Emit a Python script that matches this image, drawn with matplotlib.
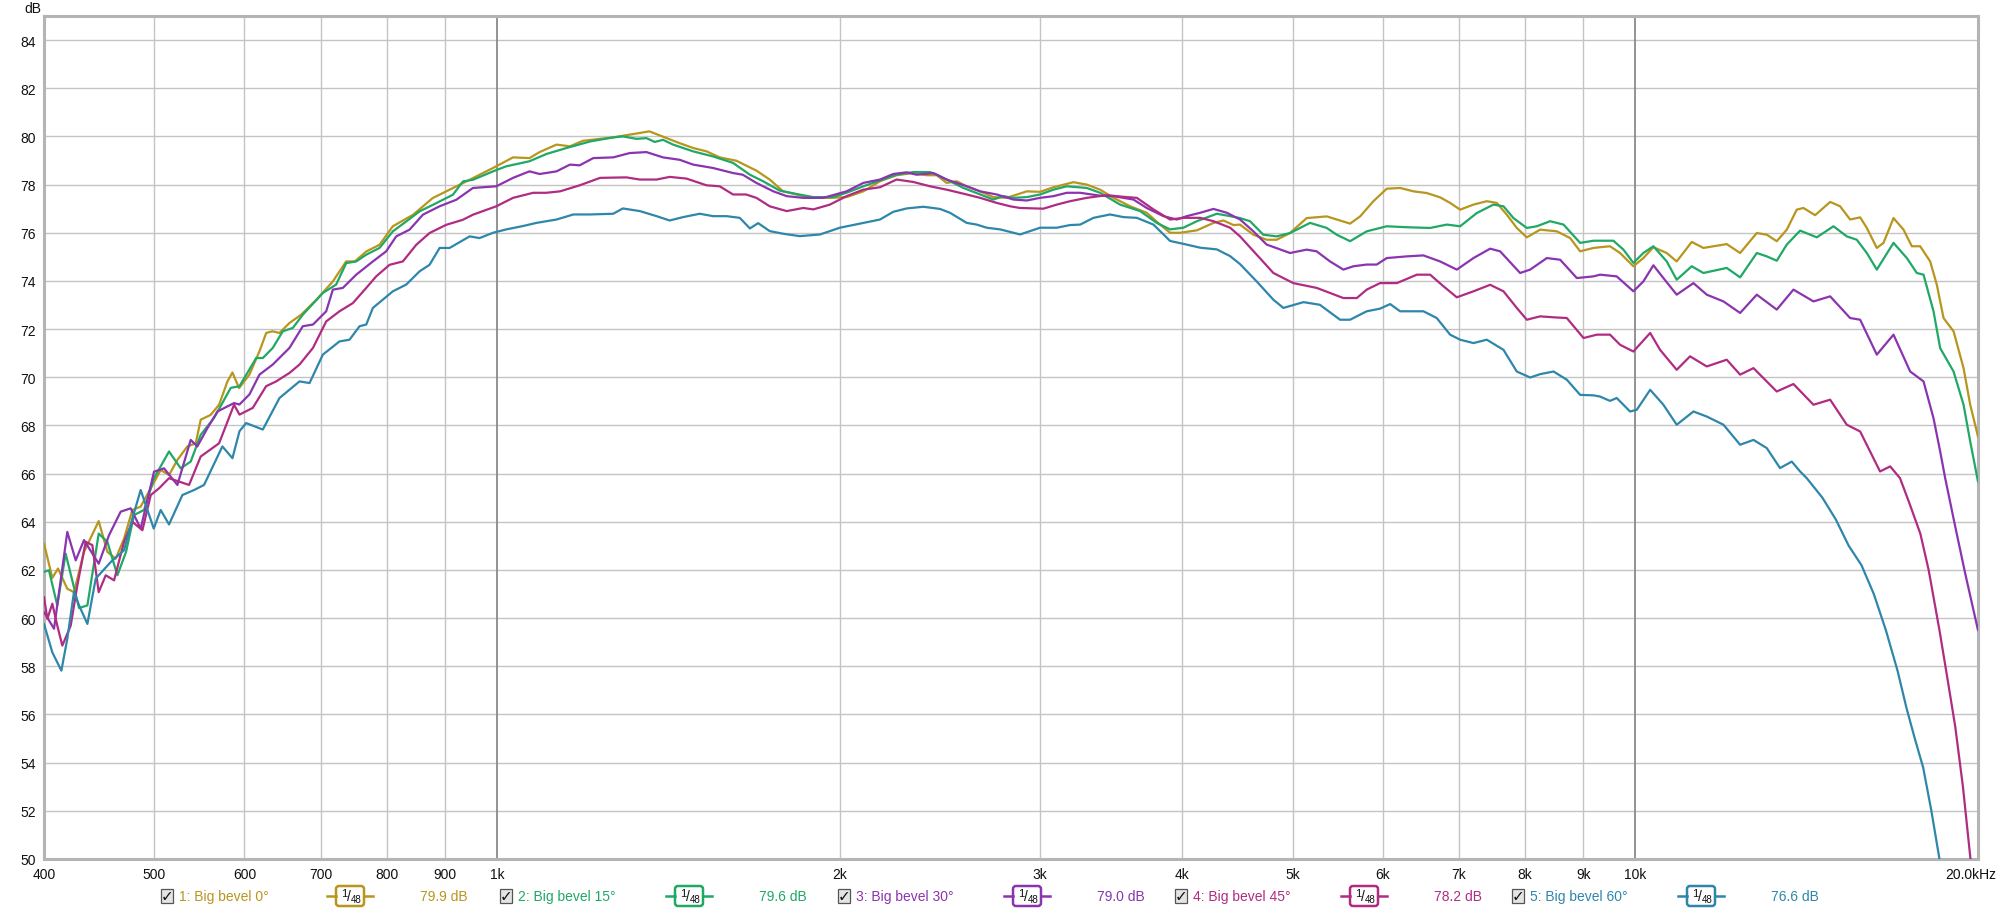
import matplotlib
matplotlib.use('Agg')
import matplotlib.pyplot as plt
import matplotlib.transforms as mtransforms
from matplotlib.patches import FancyBboxPatch, Rectangle

plt.rcParams['font.family'] = ['Liberation Sans', 'DejaVu Sans']

# ---------------- data (frequency Hz, level dB) ----------------
gold_pts = [(400, 63.1), (406.8, 61.67), (411.5, 62.06), (419.3, 61.22), (425, 61.08), (433.7, 62.75),
            (446.8, 64.03), (454.7, 62.75), (462.4, 62.47), (470.3, 63.3), (478.3, 64.49), (486.4, 64.63),
            (496.4, 65.39), (506.5, 66.15), (515.1, 65.94), (523.9, 66.57), (534.6, 67.13), (543.7, 67.26),
            (549.2, 68.24), (560.4, 68.44), (570, 68.86), (579.7, 69.83), (585.6, 70.2), (593.5, 69.55),
            (606, 70.11), (618.5, 71.08), (627, 71.84), (635, 71.91), (644, 71.84), (657, 72.25), (673, 72.6),
            (694, 73.22), (717.5, 73.98), (737, 74.81), (750, 74.81), (768, 75.23), (788.5, 75.5), (810, 76.27),
            (844, 76.75), (878, 77.44), (915, 77.86), (946, 78.2),
            (992, 78.69), (1033, 79.13), (1068, 79.1), (1090, 79.35), (1128, 79.66), (1159, 79.59), (1190, 79.82),
            (1265, 79.96), (1317, 80.1), (1361, 80.21), (1390, 80.04), (1447, 79.72), (1487, 79.52), (1528, 79.38),
            (1569, 79.13), (1623, 78.99), (1690, 78.58), (1736, 78.21), (1784, 77.72), (1833, 77.59), (1883, 77.45),
            (1961, 77.45), (2028, 77.48), (2098, 77.72),
            (2170, 78.14), (2244, 78.39), (2321, 78.48), (2385, 78.39), (2434, 78.39), (2483, 78.07), (2534, 78.14),
            (2586, 77.93), (2657, 77.72), (2729, 77.48), (2804, 77.45), (2920, 77.72), (3000, 77.7), (3082, 77.89),
            (3209, 78.1), (3297, 78.0), (3387, 77.79), (3480, 77.45), (3599, 77.1), (3722, 76.83), (3824, 76.34),
            (3902, 76.0), (3982, 76.0), (4119, 76.1), (4260, 76.41), (4347, 76.51), (4436, 76.32),
            (4495, 76.34), (4618, 75.92), (4744, 75.71), (4841, 75.71), (4974, 75.99), (5144, 76.61), (5357, 76.68),
            (5466, 76.55), (5616, 76.38), (5731, 76.68), (5887, 77.31), (6048, 77.83), (6214, 77.86), (6384, 77.72),
            (6558, 77.65), (6738, 77.47), (6875, 77.24), (7016, 76.96), (7208, 77.17), (7405, 77.31), (7556, 77.24),
            (7711, 76.75), (7868, 76.2), (8029, 75.81), (8249, 76.13), (8532, 76.06), (8765, 75.78), (8944, 75.23),
            (9189, 75.37),
            (9311, 75.4), (9501, 75.44), (9696, 75.16), (9961, 74.61), (10164, 74.95), (10372, 75.4), (10656, 75.16),
            (10873, 74.81), (11209, 75.62), (11476, 75.37), (12031, 75.53), (12361, 75.16), (12785, 75.99),
            (13046, 75.92), (13312, 75.65), (13585, 76.13), (13862, 76.96), (14050, 77.03), (14386, 76.73),
            (14830, 77.28), (15132, 77.1), (15442, 76.55), (15758, 76.64), (15972, 76.2), (16298, 75.37),
            (16520, 75.58), (16858, 76.61), (17202, 76.13), (17495, 75.44), (17792, 75.44), (18156, 74.81),
            (18402, 73.84), (18653, 72.46), (19035, 71.91), (19424, 70.38), (19688, 68.86), (20000, 67.54)]

green_pts = [(400, 61.92), (404, 61.99), (410.9, 60.53), (417.9, 62.68), (429.4, 60.42), (436.7, 60.53),
             (446.8, 63.51), (454.7, 63.17), (464, 61.78), (472.2, 62.75), (479.9, 64.28), (489.7, 64.49),
             (499.7, 65.81), (515.1, 66.92), (527.4, 66.22), (538.2, 66.5), (549.2, 67.61), (564.2, 68.31),
             (583.6, 69.56),
             (594, 69.63), (614.4, 70.8), (622.7, 70.8), (635.4, 71.22), (648.4, 71.91), (661.7, 72.05), (675.2, 72.6),
             (703.1, 73.5), (722.3, 73.85), (737.1, 74.74), (752.2, 74.81), (767.6, 75.09), (788.5, 75.37),
             (810.1, 76.06), (832.3, 76.47), (855.1, 76.89), (878.4, 77.16), (914.7, 77.58), (933.4, 78.13),
             (952.5, 78.2),
             (992, 78.55), (1019, 78.76), (1068, 78.97), (1105, 79.27), (1151, 79.52), (1207, 79.79), (1265, 79.96),
             (1290, 80.0), (1326, 79.9), (1353, 79.93), (1376, 79.77), (1399, 79.86), (1428, 79.66), (1487, 79.38),
             (1548, 79.17), (1612, 78.9), (1668, 78.41), (1713, 78.14), (1772, 77.75), (1833, 77.61), (1896, 77.48),
             (1973, 77.48), (2028, 77.66), (2098, 77.93),
             (2170, 78.17), (2244, 78.41), (2321, 78.52), (2401, 78.52), (2434, 78.41), (2483, 78.21), (2569, 77.86),
             (2657, 77.59), (2729, 77.38), (2785, 77.52), (2842, 77.45), (2920, 77.48), (3000, 77.59), (3082, 77.79),
             (3166, 77.93), (3297, 77.86), (3387, 77.66), (3527, 77.17), (3673, 76.9), (3798, 76.41), (3902, 76.14),
             (4009, 76.21), (4119, 76.48), (4289, 76.79), (4406, 76.69),
             (4495, 76.61), (4587, 76.48), (4712, 75.92), (4841, 75.85), (4974, 75.99), (5179, 76.41), (5357, 76.2),
             (5466, 75.92), (5616, 75.65), (5808, 76.06), (6048, 76.27), (6298, 76.23), (6603, 76.2), (6829, 76.34),
             (7016, 76.27), (7257, 76.82), (7505, 77.17), (7659, 77.1), (7815, 76.61), (8029, 76.2), (8193, 76.27),
             (8417, 76.48), (8648, 76.34), (8944, 75.58), (9189, 75.67),
             (9311, 75.67), (9566, 75.67), (9762, 75.3), (9961, 74.75), (10164, 75.16), (10372, 75.44), (10656, 74.81),
             (10873, 74.05), (11209, 74.61), (11476, 74.33), (12031, 74.54), (12361, 74.15), (12785, 75.16),
             (13046, 75.02), (13312, 74.84), (13585, 75.51), (13956, 76.09), (14435, 75.81), (14930, 76.27),
             (15338, 75.85), (15652, 75.71), (15972, 75.16), (16298, 74.47), (16858, 75.58), (17319, 74.95),
             (17672, 74.33), (17913, 74.26), (18279, 72.74), (18527, 71.21), (19035, 70.24), (19424, 68.86),
             (19688, 67.33), (20000, 65.67)]

purple_pts = [(400, 60.25), (408.2, 59.56), (419.3, 63.58), (426.5, 62.4), (433.7, 63.24), (446.8, 62.26),
              (456.2, 63.44), (467.1, 64.42), (476.7, 64.56), (486.4, 63.72), (499.7, 66.08), (509.9, 66.22),
              (523.9, 65.53), (538.2, 67.4), (545.5, 67.13), (556.7, 67.89), (568.1, 68.58), (587.5, 68.93),
              (594, 68.87), (606.1, 69.29), (618.5, 70.11), (635.4, 70.53), (657.2, 71.22), (675.2, 72.12),
              (689.2, 72.19), (707.9, 72.74), (717.5, 73.64), (732.1, 73.71), (752.2, 74.26), (778, 74.81),
              (799.2, 75.23), (815.6, 75.85), (837.9, 76.13), (860.8, 76.75), (890.4, 77.1), (920.9, 77.37),
              (952.5, 77.86),
              (998.7, 77.93), (1033, 78.28), (1068, 78.55), (1090, 78.44), (1128, 78.55), (1159, 78.83), (1182, 78.8),
              (1215, 79.1), (1265, 79.13), (1308, 79.31), (1353, 79.35), (1399, 79.13), (1447, 79.03), (1487, 78.83),
              (1548, 78.69), (1612, 78.48), (1644, 78.41), (1690, 78.07), (1749, 77.72), (1797, 77.52), (1858, 77.45),
              (1935, 77.45), (2028, 77.72), (2098, 78.07),
              (2170, 78.21), (2229, 78.44), (2290, 78.51), (2337, 78.41), (2417, 78.48), (2483, 78.21), (2586, 77.93),
              (2657, 77.72), (2748, 77.59), (2842, 77.38), (2920, 77.34), (3000, 77.45), (3082, 77.52), (3166, 77.66),
              (3253, 77.66), (3387, 77.54), (3480, 77.52), (3623, 77.38), (3722, 77.03), (3850, 76.69), (3955, 76.55),
              (4036, 76.69), (4147, 76.83), (4260, 76.99), (4377, 76.83), (4496, 76.55),
              (4618, 76.06), (4744, 75.51), (4974, 75.16), (5144, 75.3), (5248, 75.23), (5393, 74.81), (5540, 74.47),
              (5654, 74.61), (5808, 74.68), (5927, 74.68), (6048, 74.95), (6298, 75.02), (6514, 75.06), (6738, 74.81),
              (6969, 74.47), (7208, 74.95), (7455, 75.34), (7607, 75.23), (7921, 74.33), (8083, 74.47), (8361, 74.95),
              (8590, 74.88), (8884, 74.12), (9189, 74.19),
              (9311, 74.26), (9630, 74.19), (9961, 73.57), (10164, 73.98), (10372, 74.65), (10584, 74.12),
              (10873, 73.43), (11247, 73.91), (11555, 73.43), (11952, 73.15), (12361, 72.67), (12785, 73.43),
              (13312, 72.81), (13769, 73.64), (14338, 73.15), (14830, 73.36), (15442, 72.46), (15758, 72.39),
              (16298, 70.94), (16858, 71.77), (17436, 70.24), (17913, 69.83), (18279, 68.3), (18527, 66.92),
              (18716, 65.81), (19100, 63.8), (19500, 61.8), (20000, 59.5)]

magenta_pts = [(400, 60.88), (402.7, 59.97), (406.8, 60.6), (410.9, 59.69), (415.1, 58.86), (422.2, 59.69),
               (427.9, 61.36), (435.2, 63.17), (441.1, 63.03), (446.8, 61.08), (453.2, 61.78), (460.9, 61.57),
               (470.3, 63.17), (478.3, 64.0), (488.1, 63.65), (496.4, 65.11), (504.8, 65.39), (515.1, 65.81),
               (525.6, 65.67), (536.4, 65.53), (549.2, 66.71), (570, 67.26), (587.5, 68.86),
               (594, 68.45), (610.2, 68.73), (626.9, 69.63), (639.8, 69.83), (657.2, 70.18), (670.7, 70.53),
               (689.2, 71.22), (707.9, 72.32), (727.2, 72.74), (747.1, 73.08), (767.6, 73.71), (783.2, 74.19),
               (804.7, 74.67), (826.6, 74.81), (849.3, 75.5), (872.5, 75.99), (902.4, 76.33), (933.4, 76.54),
               (952.5, 76.75),
               (998.7, 77.1), (1033, 77.45), (1076, 77.66), (1105, 77.66), (1136, 77.72), (1182, 77.97), (1232, 78.28),
               (1299, 78.3), (1335, 78.21), (1381, 78.21), (1418, 78.32), (1467, 78.25), (1528, 77.97), (1569, 77.93),
               (1612, 77.59), (1655, 77.59), (1690, 77.45), (1736, 77.1), (1797, 76.9), (1858, 77.03), (1896, 76.97),
               (1961, 77.17), (2028, 77.52), (2098, 77.79),
               (2170, 77.89), (2244, 78.21), (2321, 78.11), (2401, 77.93), (2483, 77.79), (2586, 77.59), (2657, 77.45),
               (2748, 77.24), (2823, 77.1), (2880, 77.03), (3020, 77.0), (3103, 77.17), (3187, 77.31), (3297, 77.45),
               (3433, 77.56), (3575, 77.48), (3648, 77.45), (3773, 76.97), (3902, 76.55), (4009, 76.62), (4147, 76.62),
               (4260, 76.48), (4406, 76.21),
               (4495, 75.85), (4649, 75.09), (4809, 74.33), (5007, 73.91), (5250, 73.71), (5393, 73.5), (5540, 73.29),
               (5693, 73.29), (5808, 73.64), (5967, 73.91), (6173, 73.91), (6428, 74.26), (6603, 74.26), (6783, 73.78),
               (6969, 73.32), (7208, 73.57), (7455, 73.84), (7659, 73.57), (7868, 72.88), (8029, 72.39), (8249, 72.53),
               (8475, 72.49), (8706, 72.46), (9005, 71.63), (9252, 71.77),
               (9501, 71.77), (9696, 71.35), (9961, 71.07), (10305, 71.84), (10513, 71.14), (10873, 70.31),
               (11170, 70.87), (11555, 70.45), (12031, 70.73), (12361, 70.11), (12700, 70.38), (13312, 69.41),
               (13769, 69.72), (14338, 68.86), (14830, 69.07), (15338, 68.03), (15758, 67.75), (16405, 66.09),
               (16745, 66.3), (17082, 65.81), (17400, 64.8), (17800, 63.5), (18100, 62.0), (18500, 59.5),
               (18800, 57.5), (19100, 55.5), (19400, 53.0), (19700, 50.0), (20000, 47.0)]

blue_pts = [(400, 59.76), (406.8, 58.58), (414.3, 57.82), (419.3, 59.14), (425, 61.08), (429.4, 60.53),
            (436.7, 59.76), (444.1, 61.64), (457.8, 62.33), (470.3, 62.82), (478.3, 64.14), (486.4, 65.32),
            (499.4, 63.72), (506.5, 64.49), (515.1, 63.89), (529.2, 65.11), (541.9, 65.32), (552.9, 65.53),
            (573.8, 67.13), (585.6, 66.64),
            (594, 67.76), (602, 68.1), (622.7, 67.83), (644.1, 69.14), (670.7, 69.83), (684.4, 69.76), (703.1, 70.94),
            (727.2, 71.49), (742.1, 71.56), (757.3, 72.12), (767.6, 72.19), (778, 72.88), (810.1, 73.57),
            (832.3, 73.85), (855.1, 74.4), (872.5, 74.67), (890.4, 75.37), (908.6, 75.37), (946.1, 75.85),
            (965.4, 75.78),
            (992, 76.0), (1019, 76.14), (1054, 76.28), (1083, 76.41), (1128, 76.55), (1167, 76.76), (1207, 76.76),
            (1265, 76.79), (1290, 77.01), (1335, 76.9), (1381, 76.69), (1418, 76.51), (1457, 76.65), (1507, 76.79),
            (1548, 76.69), (1591, 76.69), (1634, 76.62), (1668, 76.18), (1696, 76.4), (1736, 76.07), (1784, 75.96),
            (1845, 75.86), (1922, 75.93), (2001, 76.21), (2098, 76.41),
            (2170, 76.55), (2229, 76.87), (2290, 77.01), (2369, 77.08), (2450, 76.99), (2500, 76.83), (2586, 76.41),
            (2639, 76.34), (2693, 76.21), (2767, 76.14), (2881, 75.93), (2940, 76.07), (3000, 76.21), (3103, 76.21),
            (3187, 76.32), (3253, 76.34), (3342, 76.62), (3456, 76.76), (3551, 76.65), (3648, 76.62), (3773, 76.34),
            (3902, 75.66), (4009, 75.54), (4147, 75.38), (4289, 75.31), (4406, 75.03),
            (4495, 74.7), (4649, 73.98), (4809, 73.22), (4907, 72.88), (5111, 73.12), (5283, 73.01), (5503, 72.39),
            (5616, 72.39), (5808, 72.74), (5967, 72.85), (6090, 73.04), (6214, 72.74), (6514, 72.74), (6692, 72.46),
            (6875, 71.77), (7016, 71.56), (7208, 71.42), (7405, 71.56), (7659, 71.14), (7868, 70.24), (8083, 69.99),
            (8249, 70.13), (8475, 70.24), (8706, 69.9), (8944, 69.27), (9189, 69.25),
            (9311, 69.2), (9501, 69.02), (9630, 69.14), (9894, 68.58), (10029, 68.65), (10305, 69.48), (10584, 68.86),
            (10873, 68.03), (11247, 68.58), (11555, 68.37), (11952, 68.03), (12361, 67.2), (12700, 67.4),
            (13046, 67.06), (13401, 66.23), (13722, 66.5), (13956, 66.09), (14145, 65.81), (14600, 65.0),
            (15000, 64.1), (15400, 63.0), (15800, 62.2), (16200, 61.0), (16600, 59.5), (17000, 57.8), (17300, 56.3),
            (17600, 55.0), (17900, 53.8), (18200, 52.0), (18500, 50.0), (18700, 48.5)]

series_pts = [gold_pts, green_pts, purple_pts, magenta_pts, blue_pts]
series_colors = ['#b8961e', '#1fa866', '#8b34b0', '#b02c82', '#2e87aa']
legend_names = ['1: Big bevel 0°', '2: Big bevel 15°', '3: Big bevel 30°', '4: Big bevel 45°', '5: Big bevel 60°']
legend_levels = ['79.9 dB', '79.6 dB', '79.0 dB', '78.2 dB', '76.6 dB']
smoothing = ['1/48'] * 5

x_ticks = [400, 500, 600, 700, 800, 900, 1000, 2000, 3000, 4000, 5000, 6000, 7000, 8000, 9000, 10000, 20000]
x_labels = ['400', '500', '600', '700', '800', '900', '1k', '2k', '3k', '4k', '5k', '6k', '7k', '8k', '9k',
            '10k', '20.0kHz']
y_ticks = list(range(50, 86, 2))

# ---------------- figure ----------------
W, H = 2000, 912
fig = plt.figure(figsize=(W / 100, H / 100), dpi=100)
fig.patch.set_facecolor('white')
ax = fig.add_axes([44 / W, 52 / H, 1934 / W, 843 / H])
ax.set_xscale('log')
ax.set_xlim(400, 20000)
ax.set_ylim(50, 85)

ax.set_yticks(y_ticks)
ax.set_yticklabels([str(v) for v in y_ticks])
ax.set_xticks(x_ticks)
ax.set_xticklabels(x_labels)
ax.xaxis.set_minor_locator(matplotlib.ticker.NullLocator())
ax.tick_params(axis='both', length=0, labelsize=10, colors='#111111')
ax.tick_params(axis='y', pad=6)
ax.tick_params(axis='x', pad=6)

# keep the last frequency label inside the figure, as in the reference
last = ax.get_xticklabels()[-1]
last.set_horizontalalignment('right')
last.set_transform(last.get_transform() + mtransforms.ScaledTranslation(18 / 100, 0, fig.dpi_scale_trans))

for y in y_ticks:
    ax.axhline(y, color='#c4c4c4', lw=1.0, zorder=1)
for xv in x_ticks[1:-1]:
    dark = xv in (1000, 10000)
    ax.axvline(xv, color='#8a8a8a' if dark else '#c4c4c4', lw=1.3 if dark else 1.0, zorder=1)

for sp in ax.spines.values():
    sp.set_color('#b4b4b4')
    sp.set_linewidth(2.2)

for pts, col in zip(series_pts, series_colors):
    f, d = zip(*pts)
    ax.plot(f, d, color=col, lw=1.6, solid_joinstyle='round', solid_capstyle='round', zorder=3)

fig.text(33 / W, 1 - 9 / H, 'dB', ha='center', va='center', fontsize=10, color='#111111')

# ---------------- legend row (pixel overlay) ----------------
ov = fig.add_axes([0, 0, 1, 1])
ov.set_xlim(0, W)
ov.set_ylim(H, 0)
ov.axis('off')
ov.patch.set_alpha(0)

leg_y = 897
bases = [167, 506, 844, 1181, 1518]
for b, name, lvl, sm, col in zip(bases, legend_names, legend_levels, smoothing, series_colors):
    ov.add_patch(Rectangle((b - 6, leg_y - 7), 12, 14, facecolor='#e4e4e4', edgecolor='#555555', lw=0.9))
    ov.text(b, leg_y, '✓', ha='center', va='center', fontsize=11, fontweight='bold',
            family=['DejaVu Sans'], color='#111111')
    ov.text(b + 12, leg_y, name, ha='left', va='center', fontsize=10, color=col)
    cx = b + 183
    ov.plot([cx - 23, cx - 14], [leg_y, leg_y], color=col, lw=1.8)
    ov.plot([cx + 14, cx + 23], [leg_y, leg_y], color=col, lw=1.8)
    ov.add_patch(FancyBboxPatch((cx - 14, leg_y - 10), 28, 20,
                                boxstyle='round,pad=0,rounding_size=3',
                                facecolor='white', edgecolor=col, lw=1.8))
    num, den = sm.split('/')
    ov.text(cx - 6, leg_y - 3, num, ha='center', va='center', fontsize=8, color='#111111')
    ov.text(cx - 1, leg_y, '/', ha='center', va='center', fontsize=10, color='#111111')
    ov.text(cx + 6, leg_y + 3, den, ha='center', va='center', fontsize=7, color='#111111')
    ov.text(b + 253, leg_y, lvl, ha='left', va='center', fontsize=10, color=col)

fig.savefig('out.png', dpi=100, facecolor='white')
